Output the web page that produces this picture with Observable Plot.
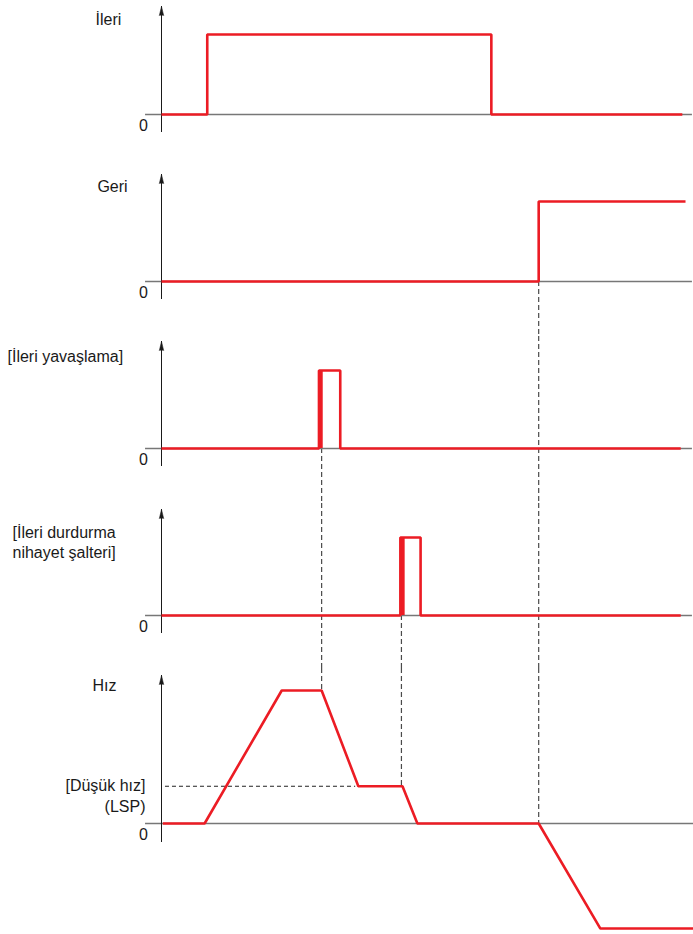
<!DOCTYPE html>
<html>
<head>
<meta charset="utf-8">
<script src="https://cdn.jsdelivr.net/npm/d3@7"></script>
<script src="https://cdn.jsdelivr.net/npm/@observablehq/plot@0.6"></script>
<style>
  html, body { margin: 0; padding: 0; background: #fff; overflow: hidden; }
  #chart { width: 693px; height: 934px; }
  #chart svg { display: block; }
</style>
</head>
<body>
<div id="chart"></div>
<script>
// ---------- DATA (time in arbitrary units 0–100, logic levels 0/1, speed normalised) ----------
const ileriT = [0, 8.6, 8.6, 62.0, 62.0, 97.9];
const ileriV = [0, 0, 1, 1, 0, 0];

const geriT = [0, 70.9, 70.9, 98.5];
const geriV = [0, 0, 1, 1];

const yavasT = [0, 29.6, 29.6, 33.6, 33.6, 97.6];
const yavasV = [0, 0, 1, 1, 0, 0];
const yavasEdge = [29.6, 30.4];

const durT = [0, 44.9, 44.9, 48.7, 48.7, 97.6];
const durV = [0, 0, 1, 1, 0, 0];
const durEdge = [44.9, 45.8];

const hizT = [0.25, 8.1, 22.6, 30.1, 37.0, 45.3, 48.1, 70.9, 82.5, 100];
const hizV = [0, 0, 1, 1, 0.28, 0.28, 0, 0, -0.79, -0.79];

const lspLevel = 0.28;
const lspLineT = [0.75, 36.5];

// dashed event guides: time, panel where it starts (at its baseline), speed level where it ends
const guideT = [30.1, 45.1, 70.9];
const guideStartPanel = [2, 3, 1];
const guideEndLevel = [1, 0.28, 0];

const panelLabels = ["İleri", "Geri", "[İleri yavaşlama]", "[İleri durdurma\nnihayet şalteri]", "Hız"];
const lspLabel = "[Düşük hız]\n(LSP)";
const zeroLabel = "0";

// ---------- LAYOUT / STYLE ----------
const W = 693, ML = 161;
const RED = "#ec1c24", INK = "#1a1a1a", AXIS = "#777", GUIDE = "#4a4a4a";
const FONT = "'Liberation Sans', Arial, Helvetica, sans-serif";
const layout = [
  {h: 167, base: 114, unit: 80, top: 6,  bottom: 132, axisEnd: 99.8, label: {dx: -53, dy: 10, anchor: "middle"}},
  {h: 167, base: 114, unit: 80, top: 7,  bottom: 132, axisEnd: 99.8, label: {dx: -49, dy: 10, anchor: "middle"}},
  {h: 167, base: 114, unit: 78, top: 7,  bottom: 132, axisEnd: 99.8, label: {dx: -154, dy: 13, anchor: "start"}},
  {h: 167, base: 114, unit: 78, top: 8,  bottom: 132, axisEnd: 99.8, label: {dx: -149, dy: 22, anchor: "start"}},
  {h: 266, base: 155, unit: 133, top: 7, bottom: 174, axisEnd: 100, label: {dx: -57, dy: 8, anchor: "middle"}}
];

const series = [
  {t: ileriT, v: ileriV, edge: null},
  {t: geriT, v: geriV, edge: null},
  {t: yavasT, v: yavasV, edge: yavasEdge},
  {t: durT, v: durV, edge: durEdge},
  {t: hizT, v: hizV, edge: null}
];

function panel(i) {
  const L = layout[i];
  const yHi = L.base / L.unit;              // value at svg top
  const yLo = -(L.h - L.base) / L.unit;      // value at svg bottom
  const axTop = (L.base - L.top) / L.unit;
  const axBot = -(L.bottom - L.base) / L.unit;
  const S = series[i];
  const pts = S.t.map((t, j) => ({t, v: S.v[j]}));
  const axisData = [{x: 0, y1: axBot, y2: axTop}];

  const marks = [];
  // dashed guides
  guideT.forEach((gt, g) => {
    const s = guideStartPanel[g];
    if (i < s) return;
    let y1, y2;
    if (i === s) { y1 = 0; y2 = yLo; }
    else if (i < 4) { y1 = yLo; y2 = yHi; }
    else { y1 = yHi; y2 = guideEndLevel[g]; }
    marks.push(Plot.ruleX([{t: gt, y1, y2}], {x: "t", y1: "y1", y2: "y2", stroke: GUIDE, strokeWidth: 1.2, strokeDasharray: "5,3"}));
  });
  // horizontal baseline
  marks.push(Plot.ruleY([{v: 0, x1: -3, x2: L.axisEnd}], {y: "v", x1: "x1", x2: "x2", stroke: AXIS, strokeWidth: 1.3}));
  // vertical axis with arrow head
  marks.push(Plot.ruleX(axisData, {x: "x", y1: "y1", y2: "y2", stroke: INK, strokeWidth: 1}));
  if (Plot.spike) {
    marks.push(Plot.vector(axisData, {x: "x", y: "y2", length: 9, r: 2.2, shape: "spike", anchor: "end", rotate: 0, fill: INK, stroke: INK, strokeWidth: 0.5}));
  } else {
    marks.push(Plot.arrow(axisData, {x1: "x", x2: "x", y1: "y1", y2: "y2", stroke: INK, strokeWidth: 1, headLength: 8, headAngle: 30}));
  }
  // LSP dashed reference
  if (i === 4) {
    marks.push(Plot.ruleY([{v: lspLevel, x1: lspLineT[0], x2: lspLineT[1]}], {y: "v", x1: "x1", x2: "x2", stroke: "#222", strokeWidth: 1, strokeDasharray: "4,3"}));
  }
  // thick rising edge
  if (S.edge) {
    marks.push(Plot.rect([{x1: S.edge[0], x2: S.edge[1], y1: 0, y2: 1}], {x1: "x1", x2: "x2", y1: "y1", y2: "y2", fill: RED}));
  }
  // signal
  marks.push(Plot.line(pts, {x: "t", y: "v", stroke: RED, strokeWidth: 2.6, strokeLinejoin: "miter", strokeLinecap: "butt"}));
  // texts
  marks.push(Plot.text([{v: 0}], {y: "v", text: () => zeroLabel, frameAnchor: "left", dx: -18, dy: 11, textAnchor: "middle", fill: INK}));
  marks.push(Plot.text([panelLabels[i]], {text: d => d, frameAnchor: "top-left", dx: L.label.dx, dy: L.label.dy, textAnchor: L.label.anchor, lineHeight: 1.25, fill: INK}));
  if (i === 4) {
    marks.push(Plot.text([{v: lspLevel}], {y: "v", text: () => lspLabel, frameAnchor: "left", dx: -16, dy: 8.5, textAnchor: "end", lineHeight: 1.3, fill: INK}));
  }

  return Plot.plot({
    width: W, height: L.h,
    marginLeft: ML, marginRight: 0, marginTop: 0, marginBottom: 0,
    x: {domain: [0, 100], axis: null},
    y: {domain: [0, 1], range: [L.base, L.base - L.unit], axis: null},
    style: {fontFamily: FONT, fontSize: "16px", background: "#fff", color: INK},
    marks
  });
}

const root = document.getElementById("chart");
for (let i = 0; i < 5; i++) root.appendChild(panel(i));
</script>
</body>
</html>
